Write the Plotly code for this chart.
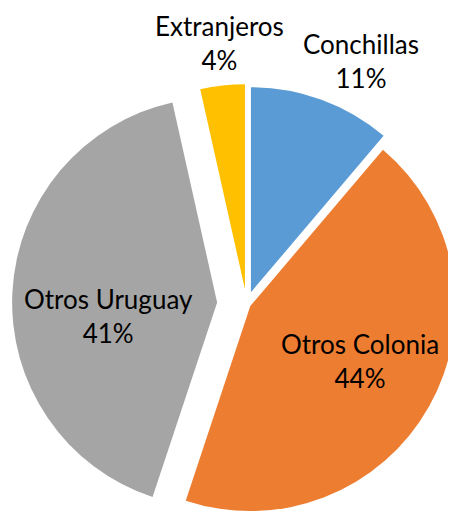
import math
import plotly.graph_objects as go

# ---- data (shares; labels show rounded %) ----
labels = ["Conchillas", "Otros Colonia", "Otros Uruguay", "Extranjeros"]
values = [11.2, 43.9, 41.4, 3.5]
colors = ["#5B9BD5", "#ED7D31", "#A5A5A5", "#FFC000"]

# ---- layout / style ----
W, H = 456, 513
PAGE_OFFSET = 8            # default body margin of the html page (px)
R = 205                    # pie radius in px
CX, CY = 246.6, 304        # centre of the un-exploded pie (screen px)
explode_px = [12.6, 4.25, 29.5, 14.9]   # how far each slice is pulled out (px)
# centre of each data label block (screen px)
label_pos = [(361, 61), (360, 361), (108, 316), (219, 43)]
FONT = dict(family="Lato, 'Open Sans', sans-serif", size=26, color="#000000")

total = sum(values)
fig = go.Figure()
cum = 0.0
for i, (lab, val) in enumerate(zip(labels, values)):
    mid = 2 * math.pi * (cum + val / 2) / total   # clockwise from 12 o'clock
    cum += val
    sx = CX - PAGE_OFFSET + math.sin(mid) * explode_px[i]
    sy = CY - PAGE_OFFSET - math.cos(mid) * explode_px[i]
    dom_x = [max(0, (sx - R) / W), min(1, (sx + R) / W)]
    dom_y = [max(0, (H - (sy + R)) / H), min(1, (H - (sy - R)) / H)]
    fig.add_trace(go.Pie(
        labels=labels,
        values=values,
        sort=False,
        direction="clockwise",
        rotation=0,
        domain=dict(x=dom_x, y=dom_y),
        marker=dict(
            colors=[c if j == i else "rgba(0,0,0,0)" for j, c in enumerate(colors)],
            line=dict(width=0),
        ),
        textinfo="none",
        hoverinfo="label+percent",
        showlegend=False,
        name=lab,
    ))

annotations = []
for i, (lab, val) in enumerate(zip(labels, values)):
    px, py = label_pos[i]
    annotations.append(dict(
        text=f"{lab}<br>{round(100 * val / total)}%",
        x=(px - PAGE_OFFSET) / W,
        y=1 - (py - PAGE_OFFSET) / H,
        xref="paper", yref="paper",
        xanchor="center", yanchor="middle",
        showarrow=False,
        align="center",
        font=FONT,
    ))

fig.update_layout(
    width=W, height=H,
    margin=dict(l=0, r=0, t=0, b=0),
    paper_bgcolor="white",
    plot_bgcolor="white",
    font=FONT,
    annotations=annotations,
)

fig.write_html("out.html")
